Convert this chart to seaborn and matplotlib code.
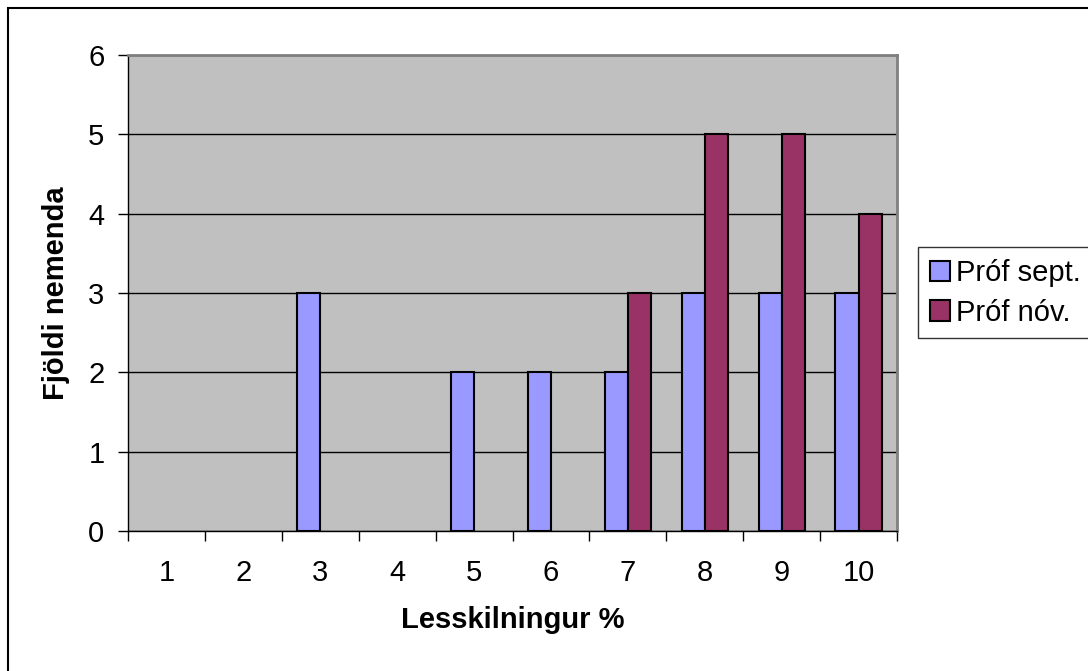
import pandas as pd
import matplotlib.pyplot as plt
import seaborn as sns
from matplotlib.patches import Rectangle, Patch
from matplotlib.ticker import FixedLocator

# Data
categories = ['1', '2', '3', '4', '5', '6', '7', '8', '9', '10']
prof_sept = [0, 0, 3, 0, 2, 2, 2, 3, 3, 3]
prof_nov = [0, 0, 0, 0, 0, 0, 3, 5, 5, 4]
series_names = ['Próf sept.', 'Próf nóv.']
colors = ['#9999FF', '#993366']

df = pd.DataFrame({
    'Lesskilningur': categories * 2,
    'Fjöldi': prof_sept + prof_nov,
    'Próf': [series_names[0]] * len(categories) + [series_names[1]] * len(categories),
})

sns.set_style('white')
plt.rcParams['font.family'] = ['Liberation Sans', 'DejaVu Sans']
plt.rcParams['text.color'] = 'black'
plt.rcParams['axes.labelcolor'] = 'black'
plt.rcParams['xtick.color'] = 'black'
plt.rcParams['ytick.color'] = 'black'
fs = 21

fig = plt.figure(figsize=(10.88, 6.71), dpi=100)
ax = fig.add_axes([128 / 1088, 1 - 531 / 671, (897 - 128) / 1088, (531 - 55) / 671])
ax.set_facecolor('#C0C0C0')

sns.barplot(data=df, x='Lesskilningur', y='Fjöldi', hue='Próf', order=categories,
            palette=colors, edgecolor='black', linewidth=1.5, width=0.6,
            saturation=1, ax=ax, zorder=3, legend=False)

# Excel draws nothing for zero values
for bar in ax.patches:
    if bar.get_height() == 0:
        bar.set_visible(False)

ax.set_ylim(0, 6)
ax.set_xlim(-0.5, len(categories) - 0.5)
ax.set_yticks(range(0, 7))
ax.yaxis.grid(True, color='black', linewidth=1, zorder=1)
ax.set_axisbelow(True)

# ticks between categories, like Excel
ax.xaxis.set_minor_locator(FixedLocator([i - 0.5 for i in range(len(categories) + 1)]))
ax.tick_params(axis='x', which='major', bottom=False, length=0, pad=20, labelsize=fs)
ax.tick_params(axis='x', which='minor', bottom=True, length=7, width=1, color='black', direction='out')
ax.tick_params(axis='y', left=True, length=7, width=1, color='black', direction='out', pad=10, labelsize=fs)

for side in ['top', 'right']:
    ax.spines[side].set_color('#808080')
    ax.spines[side].set_linewidth(2)
for side in ['left', 'bottom']:
    ax.spines[side].set_color('black')
    ax.spines[side].set_linewidth(1)

ax.set_xlabel('Lesskilningur %', fontsize=fs, fontweight='bold', labelpad=14)
ax.set_ylabel('Fjöldi nemenda', fontsize=fs, fontweight='bold', labelpad=13)

handles = [Patch(facecolor=c, edgecolor='black', linewidth=1.5) for c in colors]
leg = ax.legend(handles, series_names, loc='center left',
                bbox_to_anchor=(918 / 1088, 1 - 293 / 671),
                bbox_transform=fig.transFigure, frameon=True, fancybox=False,
                edgecolor='black', fontsize=fs, handlelength=0.7, handleheight=0.7,
                handletextpad=0.2, borderpad=0.4, labelspacing=0.4, borderaxespad=0)
leg.get_frame().set_linewidth(1)

# outer chart border
fig.patches.append(Rectangle((8 / 1088, -0.1), 1.2, 1.1 - 8 / 671, transform=fig.transFigure,
                             fill=False, edgecolor='black', linewidth=1.5))

fig.savefig('out.png', dpi=100)
